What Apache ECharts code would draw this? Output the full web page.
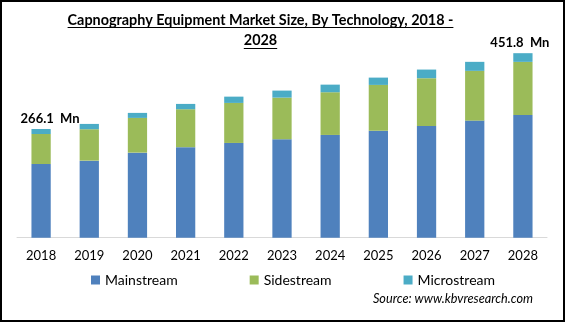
<!DOCTYPE html>
<html>
<head>
<meta charset="utf-8">
<script src="https://cdn.jsdelivr.net/npm/echarts@6/dist/echarts.min.js"></script>
<style>
  html, body { margin: 0; padding: 0; background: #fff; }
  #chart { width: 565px; height: 322px; }
</style>
</head>
<body>
<div id="chart"></div>
<script>
// Capnography equipment market size by technology (USD Mn)
const years = ['2018', '2019', '2020', '2021', '2022', '2023', '2024', '2025', '2026', '2027', '2028'];
const mainstream  = [180.5, 188.7, 208.3, 221.7, 232.0, 241.1, 251.6, 261.9, 273.7, 286.7, 300.6];
const sidestream  = [73.4, 76.9, 85.0, 92.9, 98.0, 101.9, 104.6, 112.2, 116.9, 121.8, 129.9];
const microstream = [12.2, 13.0, 12.3, 13.0, 15.4, 17.2, 18.6, 17.9, 21.1, 22.1, 21.3];
const seriesNames = ['Mainstream', 'Sidestream', 'Microstream'];
const titleLines = ['Capnography Equipment Market Size, By Technology, 2018 -', '2028'];
const sourceText = 'Source: www.kbvresearch.com';

const FONT = 'Lato, "Liberation Sans", sans-serif';
const totals = years.map((_, i) => +(mainstream[i] + sidestream[i] + microstream[i]).toFixed(1));
const last = years.length - 1;

// Total value labels on the first and last stacked columns
const microData = microstream.map((v, i) => {
  if (i === 0) {
    return { value: v, label: { show: true, offset: [9, 0] } };
  }
  if (i === last) {
    return { value: v, label: { show: true, offset: [-3, 0] } };
  }
  return v;
});

// Measure title text so it can be underlined
const ctx = document.createElement('canvas').getContext('2d');
const titleFont = 'bold 14.4px ' + FONT;
ctx.font = titleFont;
const titleCx = 260.5;
const titleY = [20.5, 40.5];
const underlineY = [27.5, 48.5];
const titleGraphics = [];
titleLines.forEach((t, k) => {
  const w = ctx.measureText(t).width;
  titleGraphics.push({
    type: 'text', x: titleCx, y: titleY[k],
    style: { text: t, font: titleFont, fill: '#000', textAlign: 'center', textVerticalAlign: 'middle' }
  });
  titleGraphics.push({
    type: 'line',
    shape: { x1: titleCx - w / 2, y1: underlineY[k], x2: titleCx + w / 2, y2: underlineY[k] },
    style: { stroke: '#000', lineWidth: 1 }
  });
});

const chart = echarts.init(document.getElementById('chart'));
chart.setOption({
  backgroundColor: '#fff',
  animation: false,
  color: ['#4f81bd', '#9bbb59', '#4bacc6'],
  textStyle: { fontFamily: FONT },
  grid: { left: 17, right: 18, top: 33.5, bottom: 84.3 },
  legend: {
    data: seriesNames,
    left: 86,
    top: 268,
    itemWidth: 9,
    itemHeight: 9,
    itemGap: 72,
    icon: 'rect',
    textStyle: { fontSize: 14, color: '#000', fontFamily: FONT }
  },
  xAxis: {
    type: 'category',
    data: years,
    axisLine: { lineStyle: { color: '#d9d9d9', width: 1 } },
    axisTick: { show: false },
    axisLabel: { color: '#000', fontSize: 13, margin: 12, fontFamily: FONT }
  },
  yAxis: {
    type: 'value',
    min: 0,
    max: 500,
    show: false,
    splitLine: { show: false }
  },
  series: [
    { name: seriesNames[0], type: 'bar', stack: 'total', barWidth: '40%', data: mainstream },
    { name: seriesNames[1], type: 'bar', stack: 'total', barWidth: '40%', data: sidestream },
    {
      name: seriesNames[2], type: 'bar', stack: 'total', barWidth: '40%', data: microData,
      label: {
        show: false,
        position: 'top',
        distance: 4,
        color: '#000',
        fontWeight: 'bold',
        fontSize: 13,
        fontFamily: FONT,
        formatter: p => totals[p.dataIndex].toFixed(1) + '  Mn'
      }
    }
  ],
  graphic: [
    {
      type: 'rect',
      shape: { x: 1, y: 1, width: 563, height: 320 },
      style: { fill: 'none', stroke: '#000', lineWidth: 2 },
      z: 100
    },
    ...titleGraphics,
    {
      type: 'text', right: 32, top: 292,
      style: { text: sourceText, font: 'italic 12.7px ' + FONT, fill: '#000' }
    }
  ]
});
</script>
</body>
</html>
